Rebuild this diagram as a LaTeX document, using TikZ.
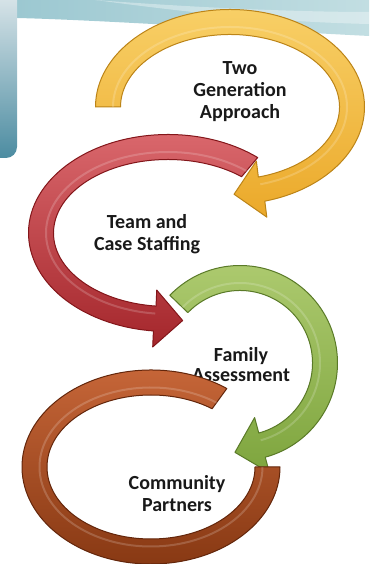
\documentclass[tikz,border=0pt]{standalone}
\usepackage{fontspec}
\setmainfont{Carlito}
\usetikzlibrary{calc}

\definecolor{goldtop}{HTML}{F8CF66}
\definecolor{goldbot}{HTML}{EBA92A}
\definecolor{goldline}{HTML}{BC8418}
\definecolor{redtop}{HTML}{DC6A6F}
\definecolor{redbot}{HTML}{A4262B}
\definecolor{redline}{HTML}{83161A}
\definecolor{greentop}{HTML}{AECB70}
\definecolor{greenbot}{HTML}{7EA53E}
\definecolor{greenline}{HTML}{5A7A28}
\definecolor{browntop}{HTML}{C9683A}
\definecolor{brownbot}{HTML}{843611}
\definecolor{brownline}{HTML}{63260B}
\definecolor{bandleft}{HTML}{9CC8D1}
\definecolor{bandright}{HTML}{C2DEE2}
\definecolor{paneltop}{HTML}{E3EBEE}
\definecolor{panelbot}{HTML}{4C8CA1}

% band of width 25 running along an ellipse from #6 to #7 (degrees),
% closed by an arrow head at #7; #2,#3 centre, #4,#5 radii of the mid line
\newcommand\ringarrow[7]{%
  \pgfmathsetmacro\rdir{sign(#7-#6)}%
  \pgfmathsetmacro\orx{#4+12.5}\pgfmathsetmacro\ory{#5+12.5}%
  \pgfmathsetmacro\irx{#4-12.5}\pgfmathsetmacro\iry{#5-12.5}%
  \pgfmathsetmacro\mrx{#4-5}\pgfmathsetmacro\mry{#5-5}%
  \pgfmathsetmacro\sx{#2+\orx*cos(#6)}\pgfmathsetmacro\sy{#3+\ory*sin(#6)}%
  \pgfmathsetmacro\gx{#2+\mrx*cos(#6)}\pgfmathsetmacro\gy{#3+\mry*sin(#6)}%
  \pgfmathsetmacro\ex{#2+\irx*cos(#7)}\pgfmathsetmacro\ey{#3+\iry*sin(#7)}%
  \pgfmathsetmacro\hx{#2+#4*cos(#7)}%
  \pgfmathsetmacro\hy{#3+#5*sin(#7)}%
  \pgfmathsetmacro\tn{veclen(#4*sin(#7),#5*cos(#7))}%
  \pgfmathsetmacro\tx{-\rdir*#4*sin(#7)/\tn}%
  \pgfmathsetmacro\ty{\rdir*#5*cos(#7)/\tn}%
  \path[#1] (\sx,\sy)
    arc[start angle=#6, end angle=#7, x radius=\orx, y radius=\ory]
    -- ({\hx+28.5*\rdir*\ty},{\hy-28.5*\rdir*\tx})
    -- ({\hx+28*\tx},{\hy+28*\ty})
    -- ({\hx-28.5*\rdir*\ty},{\hy+28.5*\rdir*\tx})
    -- (\ex,\ey)
    arc[start angle=#7, end angle=#6, x radius=\irx, y radius=\iry]
    -- cycle;
  \draw[gloss] (\gx,\gy)
    arc[start angle=#6, end angle=#7, x radius=\mrx, y radius=\mry];
}

\begin{document}
\begin{tikzpicture}[x=1pt, y=1pt,
  ringtext/.style={font=\bfseries\fontsize{20}{22}\selectfont, align=center, text=black!90},
  ring/.style={line width=1, line join=round},
  goldarrow/.style ={ring, draw=goldline,  top color=goldtop,  bottom color=goldbot},
  redarrow/.style  ={ring, draw=redline,   top color=redtop,   bottom color=redbot},
  greenarrow/.style={ring, draw=greenline, top color=greentop, bottom color=greenbot},
  brownarrow/.style={ring, draw=brownline, top color=browntop, bottom color=brownbot},
  gloss/.style={white, opacity=0.18, line width=2},
]
\useasboundingbox (0,0) rectangle (369,564);

% slide decoration: band along the top, panel on the left
\shade[left color=bandleft, right color=bandright]
  (17,564) -- (369,564) -- (369,528) .. controls (250,534) and (100,544) .. (17,546) -- cycle;
\fill[white, opacity=0.35]
  (95,564) .. controls (200,556) and (300,552) .. (369,552) -- (369,540)
  .. controls (280,542) and (200,550) .. (95,564) -- cycle;
\shade[top color=paneltop, bottom color=panelbot, rounded corners=11]
  (-20,580) rectangle (17,406);

% the four steps
\ringarrow{goldarrow}{230}{457}{122}{85}{180}{-75}
\ringarrow{redarrow}{168}{331}{127}{86}{50}{264}
\ringarrow{greenarrow}{240}{201}{85}{85}{136}{-75}

\node[ringtext] (twogen) at (240,472) {Two\\Generation\\Approach};
\node[ringtext] (team) at (147,330) {Team and\\Case Staffing};
\node[ringtext, font=\bfseries\fontsize{20}{20}\selectfont] (family) at (241,199) {Family\\Assessment};

% last step has no head, it ends flat below the green one
\path[brownarrow] (151,97) ++(54:129 and 97)
  arc[start angle=54, end angle=360, x radius=129, y radius=97] -- ++(-25,0)
  arc[start angle=360, end angle=54, x radius=104, y radius=72] -- cycle;
\draw[gloss] (151,97) ++(54:111.5 and 79.5)
  arc[start angle=54, end angle=360, x radius=111.5, y radius=79.5];

\node[ringtext] (community) at (177,70) {Community\\Partners};

\end{tikzpicture}
\end{document}
